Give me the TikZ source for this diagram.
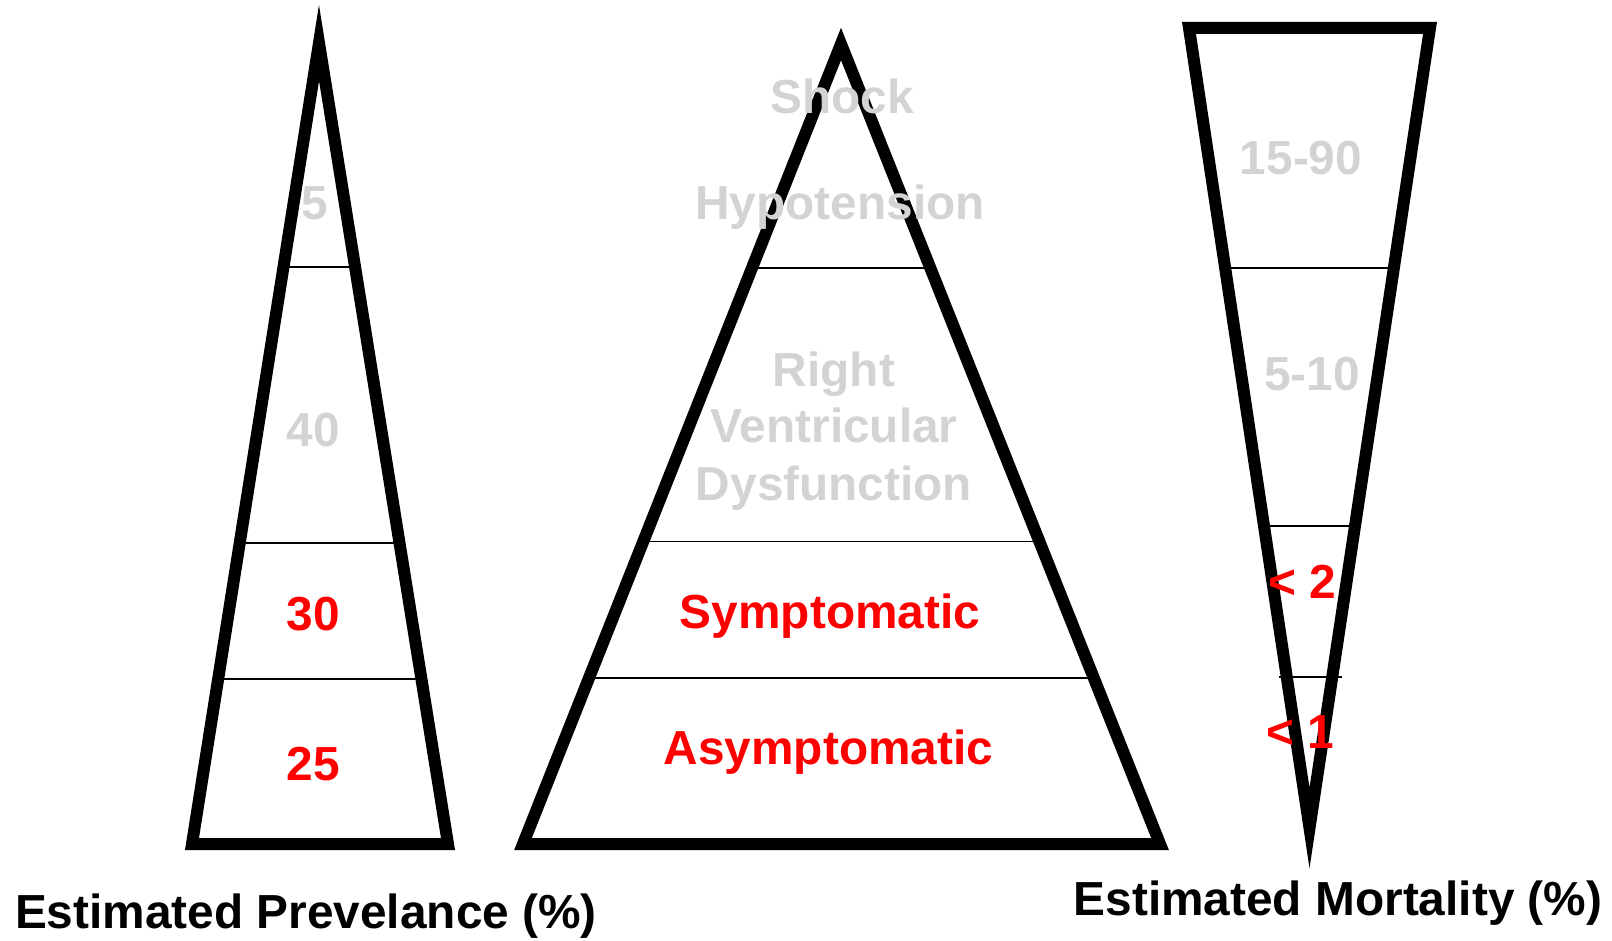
\documentclass[tikz,border=0pt]{standalone}
\usepackage{fontspec}
\setmainfont{Liberation Sans}
\usetikzlibrary{calc}
\definecolor{lgray}{RGB}{211,211,211}
\definecolor{pred}{RGB}{255,0,0}
\tikzset{
  border/.style={draw=black, line width=12pt, line join=miter, miter limit=20},
  divider/.style={draw=black, line width=1.8pt},
  lbl/.style={anchor=base, inner sep=0pt, font=\fontsize{47.8}{57}\selectfont\bfseries},
  graylbl/.style={lbl, text=lgray},
  redlbl/.style={lbl, text=pred},
  blklbl/.style={lbl, text=black}
}
\begin{document}
\begin{tikzpicture}[x=1pt,y=-1pt]
\useasboundingbox (0,0) rectangle (1612,941);
% ---- left triangle
\coordinate (lA) at (319,43);
\coordinate (lL) at (192,844);
\coordinate (lR) at (448,844);
\coordinate (l1a) at ($(lA)!0.28!(lL)$);
\coordinate (l1b) at ($(lA)!0.28!(lR)$);
\coordinate (l2a) at ($(lA)!0.6238!(lL)$);
\coordinate (l2b) at ($(lA)!0.6238!(lR)$);
\coordinate (l3a) at ($(lA)!0.7938!(lL)$);
\coordinate (l3b) at ($(lA)!0.7938!(lR)$);
\draw[divider] (l1a) -- (l1b);
\draw[divider] (l2a) -- (l2b);
\draw[divider] (l3a) -- (l3b);
\draw[border] (lA) -- (lL) -- (lR) -- cycle;
% ---- middle triangle
\coordinate (mA) at (841,44);
\coordinate (mL) at (523,844);
\coordinate (mR) at (1160,844);
\coordinate (m1a) at ($(mA)!0.2804!(mL)$);
\coordinate (m1b) at ($(mA)!0.2804!(mR)$);
\coordinate (m2a) at ($(mA)!0.6220!(mL)$);
\coordinate (m2b) at ($(mA)!0.6220!(mR)$);
\coordinate (m3a) at ($(mA)!0.7922!(mL)$);
\coordinate (m3b) at ($(mA)!0.7922!(mR)$);
\draw[divider] (m1a) -- (m1b);
\draw[divider] (m2a) -- (m2b);
\draw[divider] (m3a) -- (m3b);
\draw[border] (mA) -- (mL) -- (mR) -- cycle;
% ---- right (inverted) triangle
\coordinate (rL) at (1189,28);
\coordinate (rR) at (1430,28);
\coordinate (rT) at (1309.5,828);
\coordinate (r1a) at ($(rL)!0.3!(rT)$);
\coordinate (r1b) at ($(rR)!0.3!(rT)$);
\coordinate (r2a) at ($(rL)!0.6225!(rT)$);
\coordinate (r2b) at ($(rR)!0.6225!(rT)$);
\coordinate (r3a) at (1279,677);
\coordinate (r3b) at (1342,677);
\draw[divider] (r1a) -- (r1b);
\draw[divider] (r2a) -- (r2b);
\draw[divider] (r3a) -- (r3b);
\draw[border] (rL) -- (rR) -- (rT) -- cycle;
% ---- labels, left
\node[graylbl] (p5) at (315,220) {5};
\node[graylbl] (p40) at (313.5,446) {40};
\node[redlbl] (p30) at (313.5,630) {30};
\node[redlbl] (p25) at (313.5,780) {25};
% ---- labels, middle
\node[graylbl] (shock) at (842,114) {Shock};
\node[graylbl] (hypo) at (840,220) {Hypotension};
\node[graylbl] (rv1) at (834,386) {Right};
\node[graylbl] (rv2) at (834,442) {Ventricular};
\node[graylbl] (rv3) at (834,500) {Dysfunction};
\node[redlbl] (sym) at (830,628) {Symptomatic};
\node[redlbl] (asym) at (828.5,764) {Asymptomatic};
% ---- labels, right
\node[graylbl] (m1590) at (1301,175) {15-90};
\node[graylbl] (m510) at (1312,390) {5-10};
\node[redlbl] (mlt2) at (1302,598) {< 2};
\node[redlbl] (mlt1) at (1300,748) {< 1};
% ---- captions
\node[blklbl] (capL) at (306,928) {Estimated Prevelance (\%)};
\node[blklbl] (capR) at (1338,915) {Estimated Mortality (\%)};
\end{tikzpicture}
\end{document}
